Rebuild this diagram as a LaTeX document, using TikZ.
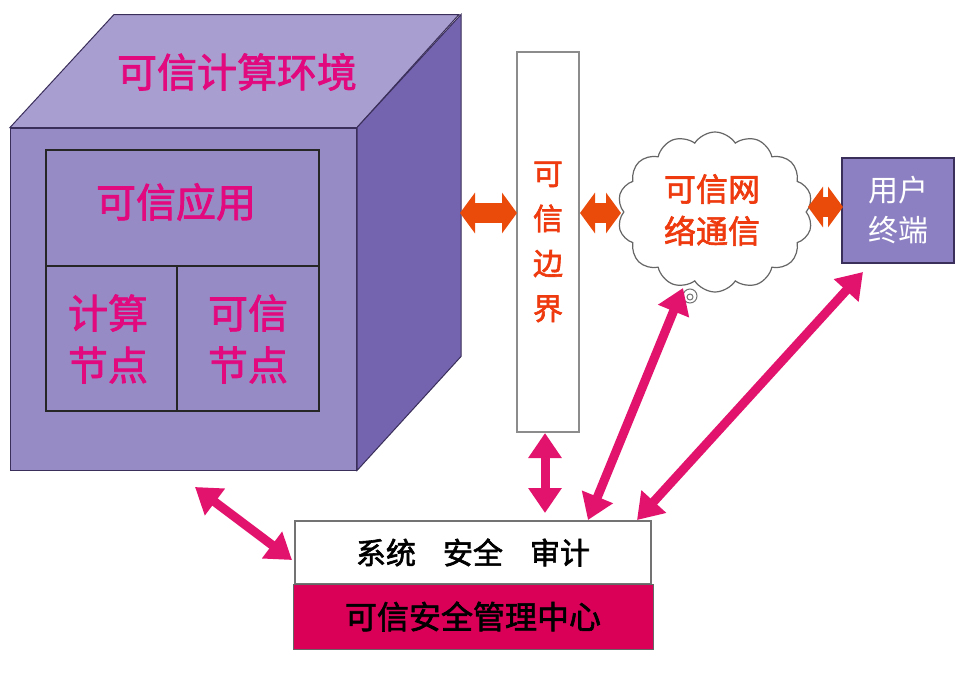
\documentclass[tikz,border=0pt]{standalone}
\usepackage{fontspec}
\setmainfont{Noto Sans CJK SC}
\newfontfamily\semibold[FakeBold=2]{Noto Sans CJK SC}
\usetikzlibrary{arrows.meta,shapes.symbols}
\definecolor{pinktext}{HTML}{E2087E}
\definecolor{orangetext}{HTML}{EE3A0E}
\definecolor{arrowpink}{HTML}{E2136C}
\definecolor{crimson}{HTML}{DB0057}
\definecolor{orangearrow}{HTML}{EA4A0A}
\definecolor{topcol}{HTML}{A99ED0}
\definecolor{frontcol}{HTML}{978BC6}
\definecolor{rightcol}{HTML}{7463AE}
\definecolor{usercol}{HTML}{8C80C2}
\definecolor{edgecol}{HTML}{3A2E5A}
\tikzset{
  face/.style={draw=edgecol, line width=1pt},
  innerbox/.style={draw=black!85, line width=2pt, inner sep=0pt},
  pinklabel/.style={text=pinktext, font=\semibold\fontsize{40}{52}\selectfont, align=center},
  orangelabel/.style={text=orangetext, align=center},
  bigpink/.style={draw=arrowpink, line width=9pt, {Triangle[length=25pt,width=32pt]}-{Triangle[length=25pt,width=32pt]}},
  fatorange/.style={draw=orangearrow, line width=20pt, {Triangle[length=15pt,width=40pt]}-{Triangle[length=15pt,width=40pt]}},
}
\begin{document}
\begin{tikzpicture}[x=1pt,y=-1pt]
\useasboundingbox[fill=white] (0,0) rectangle (963,672);
% cube
\node[face, fill=frontcol, minimum width=346pt, minimum height=342pt, inner sep=0pt] (front) at (183.5,299) {};
\draw[face, fill=topcol] (front.north west) -- ++(104,-113) -- ++(345,0) -- (front.north east) -- cycle;
\draw[face, fill=rightcol] (front.north east) -- ++(104,-113) -- ++(0,342) -- (front.south east) -- cycle;
\node[pinklabel] (title) at (237,72) {可信计算环境};
\node[innerbox, minimum width=273pt, minimum height=116pt] (app) at (182.5,208) {};
\node[pinklabel] (applabel) at (176,202) {可信应用};
\node[innerbox, minimum width=131pt, minimum height=145pt] (comp) at (111.5,338.5) {};
\node[pinklabel] (complabel) at (108,339) {计算\\节点};
\node[innerbox, minimum width=142pt, minimum height=145pt] (trust) at (248,338.5) {};
\node[pinklabel] (trustlabel) at (248,339) {可信\\节点};
% boundary
\node[draw=black!45, line width=1.2pt, fill=white, minimum width=62pt, minimum height=380pt, inner sep=0pt,
      orangelabel, font=\semibold\fontsize{30}{45}\selectfont] (bound) at (548,242) {可\\信\\边\\界};
% cloud
\node[cloud, cloud puffs=14, cloud puff arc=115, aspect=1.25, draw=black!60, line width=1.2pt, fill=white,
      minimum width=195pt, minimum height=160pt, inner sep=0pt] (cloud) at (715,212) {};
\node[orangelabel, font=\semibold\fontsize{32}{42}\selectfont] (cloudlabel) at (712,210) {可信网\\络通信};
\draw[black!55, line width=1pt] (690,296) circle (7) (690,297) circle (3);
% user terminal
\node[draw=edgecol, line width=1.5pt, fill=usercol, minimum width=112pt, minimum height=105pt, inner sep=0pt,
      text=white, align=center, font=\fontsize{30}{40}\selectfont] (user) at (898,210.5) {用户\\终端};
% management centre
\node[draw=black!55, line width=1.5pt, fill=white, minimum width=356pt, minimum height=63pt, inner sep=0pt,
      font=\semibold\fontsize{30}{36}\selectfont] (audit) at (473,552.5) {系统\hspace{0.9em}安全\hspace{0.9em}审计};
\node[draw=black!60, line width=1pt, fill=crimson, minimum width=360pt, minimum height=65pt, inner sep=0pt,
      font=\semibold\fontsize{32}{36}\selectfont] (center) at (473,616.5) {可信安全管理中心};
% coordinates for connector ends
\coordinate (a1s) at (195,487);
\coordinate (a1e) at (292,560);
\coordinate (a2s) at (545,433);
\coordinate (a2e) at (545,513);
\coordinate (a3s) at (588,520);
\coordinate (a3e) at (683,288);
\coordinate (a4s) at (637,520);
\coordinate (a4e) at (863,272);
\coordinate (o1s) at (460,213);
\coordinate (o1e) at (517,213);
\coordinate (o2s) at (580,213);
\coordinate (o2e) at (621,213);
\coordinate (o3s) at (808,207);
\coordinate (o3e) at (843,207);
% orange arrows
\draw[fatorange] (o1s) -- (o1e);
\draw[fatorange] (o2s) -- (o2e);
\draw[fatorange] (o3s) -- (o3e);
% pink arrows
\draw[bigpink] (a1s) -- (a1e);
\draw[bigpink] (a2s) -- (a2e);
\draw[bigpink] (a3s) -- (a3e);
\draw[bigpink] (a4s) -- (a4e);
\end{tikzpicture}
\end{document}
